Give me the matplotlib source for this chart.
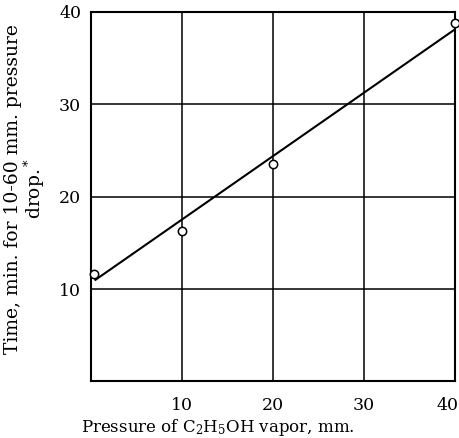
import numpy as np
import matplotlib.pyplot as plt
import matplotlib.transforms as mtransforms

# Datos
pressure = [0.3, 10, 20, 40]
time_min = [11.6, 16.3, 23.5, 38.8]

# Recta ajustada (extremos)
fit_x = [0.5, 40]
fit_y = [11.0, 38.1]

x_ticks = [10, 20, 30, 40]
y_ticks = [10, 20, 30, 40]

plt.rcParams['font.family'] = ['DejaVu Serif']
plt.rcParams['mathtext.fontset'] = 'dejavuserif'

fig = plt.figure(figsize=(4.59, 4.38), dpi=100)
ax = fig.add_axes([0.198, 0.129, 0.793, 0.844])

ax.plot(fit_x, fit_y, color='black', linewidth=1.5, zorder=3)
ax.plot(pressure, time_min, linestyle='none', marker='o', markersize=6,
        markerfacecolor='white', markeredgecolor='black', markeredgewidth=1.1,
        zorder=4, clip_on=False)

ax.set_xlim(0, 40)
ax.set_ylim(0, 40)
ax.set_xticks(x_ticks)
ax.set_yticks(y_ticks)
ax.grid(True, color='black', linewidth=1.1)
ax.tick_params(length=0, labelsize=12.5)
ax.tick_params(axis='x', pad=11)
ax.tick_params(axis='y', pad=7)
for s in ax.spines.values():
    s.set_linewidth(1.5)

# desplazar la etiqueta "40" del eje x hacia la izquierda
lbl = ax.get_xticklabels()[-1]
lbl.set_transform(lbl.get_transform() +
                  mtransforms.ScaledTranslation(-7 / 100, 0, fig.dpi_scale_trans))

ax.set_xlabel('Pressure of C$_2$H$_5$OH vapor, mm.', fontsize=12)
ax.xaxis.set_label_coords(0.35, -0.095)
ax.xaxis.label.set_verticalalignment('top')
ax.set_ylabel('Time, min. for 10-60 mm. pressure\ndrop.$^*$', fontsize=13.5,
              linespacing=1.0)
ax.yaxis.set_label_coords(-0.179, 0.521)
ax.yaxis.label.set_verticalalignment('center')

fig.savefig('out.png', dpi=100)
